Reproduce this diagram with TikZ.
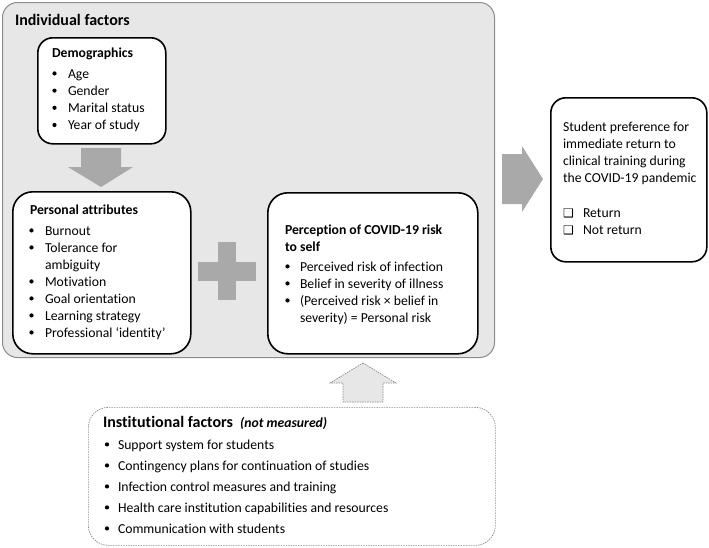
\documentclass[tikz,border=0pt]{standalone}
\usepackage{fontspec}
\setmainfont{Carlito}[Ligatures={NoCommon}]
\newfontfamily\djv{DejaVu Sans}
\definecolor{bggray}{HTML}{E7E7E7}
\definecolor{edgegray}{HTML}{8C8C8C}
\definecolor{arrowgray}{HTML}{A9A9A9}
\definecolor{dashgray}{HTML}{8A8A8A}
\tikzset{
  txt/.style={anchor=base west, inner sep=0pt, outer sep=0pt, font=\fontsize{13.7}{16}\selectfont},
  ttl/.style={txt, font=\fontsize{13.7}{16}\selectfont\bfseries},
  bigttl/.style={txt, font=\fontsize{16}{19}\selectfont\bfseries},
  bul/.style={circle, fill=black, draw=none, inner sep=0pt, minimum size=4.2pt, yshift=4.6pt},
  whitebox/.style={draw=black, line width=1.6pt, fill=white, anchor=north west, inner sep=0pt},
  blockarrow/.style={fill=arrowgray, draw=none},
  chk/.style={txt, font=\djv\fontsize{12}{14}\selectfont},
}
\begin{document}
\begin{tikzpicture}[x=1pt,y=-1pt]
\useasboundingbox (0,0) rectangle (709,547);
% outer individual factors panel
\node[draw=edgegray, line width=1pt, fill=bggray, rounded corners=15pt, anchor=north west,
      minimum width=492pt, minimum height=355pt, inner sep=0pt] (indiv) at (2,2) {};
\node[bigttl] (indivt) at (15,25) {Individual factors};

% Demographics
\node[whitebox, rounded corners=15pt, minimum width=128pt, minimum height=106pt] (demo) at (37,37) {};
\node[ttl] (demot) at (52,57.5) {Demographics};
\foreach \t [count=\i] in {Age,Gender,Marital status,Year of study} {
  \node[bul] (db\i) at (54.5,{78+17.2*(\i-1)}) {};
  \node[txt] (dt\i) at (68,{78+17.2*(\i-1)}) {\t};
}

% down arrow
\fill[blockarrow] (81,148) -- (121,148) -- (121,167) -- (133,167) -- (101,187) -- (68,167) -- (81,167) -- cycle;

% Personal attributes
\node[whitebox, rounded corners=20pt, minimum width=178pt, minimum height=162pt] (pers) at (12,191) {};
\node[ttl] (perst) at (30,214.5) {Personal attributes};
\node[bul] (pb1) at (31.5,235) {};
\node[txt] (pt1) at (45,235) {Burnout};
\node[bul] (pb2) at (31.5,252) {};
\node[txt] (pt2) at (45,252) {Tolerance for};
\node[txt] (pt2b) at (45,269) {ambiguity};
\node[bul] (pb3) at (31.5,286) {};
\node[txt] (pt3) at (45,286) {Motivation};
\node[bul] (pb4) at (31.5,303) {};
\node[txt] (pt4) at (45,303) {Goal orientation};
\node[bul] (pb5) at (31.5,320) {};
\node[txt] (pt5) at (45,320) {Learning strategy};
\node[bul] (pb6) at (31.5,337) {};
\node[txt] (pt6) at (45,337) {Professional ‘identity’};

% plus
\fill[blockarrow] (218,242) rectangle (236,300);
\fill[blockarrow] (198,262) rectangle (256,281);

% Perception
\node[whitebox, rounded corners=20pt, minimum width=210pt, minimum height=161pt] (perc) at (267,192) {};
\node[ttl] (perct1) at (285,234) {Perception of COVID-19 risk};
\node[ttl] (perct2) at (285,251) {to self};
\node[bul] (qb1) at (287.5,271) {};
\node[txt] (qt1) at (300,271) {Perceived risk of infection};
\node[bul] (qb2) at (287.5,288) {};
\node[txt] (qt2) at (300,288) {Belief in severity of illness};
\node[bul] (qb3) at (287.5,305) {};
\node[txt] (qt3) at (300,305) {(Perceived risk × belief in};
\node[txt] (qt3b) at (300,322) {severity) = Personal risk};

% right arrow
\fill[blockarrow] (502,154) -- (522,154) -- (522,146) -- (543,179) -- (522,212) -- (522,204) -- (502,204) -- cycle;

% Result
\node[whitebox, rounded corners=15pt, minimum width=156pt, minimum height=164pt] (res) at (550,97) {};
\node[txt] (rt1) at (563,131) {Student preference for};
\node[txt] (rt2) at (563,148.2) {immediate return to};
\node[txt] (rt3) at (563,165.4) {clinical training during};
\node[txt] (rt4) at (563,182.6) {the COVID-19 pandemic};
\node[chk] (rc1) at (563,217) {❑};
\node[txt] (rr1) at (583,217) {Return};
\node[chk] (rc2) at (563,234.2) {❑};
\node[txt] (rr2) at (583,234.2) {Not return};

% up arrow (dashed)
\filldraw[fill=bggray, draw=dashgray, dash pattern=on 1.5pt off 1pt, line width=0.7pt]
  (363,363) -- (396,383) -- (383,383) -- (383,402) -- (343,402) -- (343,383) -- (330,383) -- cycle;

% Institutional
\node[draw=dashgray, dash pattern=on 1.5pt off 1pt, line width=0.7pt, rounded corners=20pt, anchor=north west,
      minimum width=407pt, minimum height=138pt, inner sep=0pt] (inst) at (88,407) {};
\node[bigttl] (instt) at (103,427) {Institutional factors\hspace{7pt}{\fontsize{13.7}{16}\selectfont\itshape (not measured)}};
\foreach \t [count=\i] in {Support system for students,Contingency plans for continuation of studies,Infection control measures and training,Health care institution capabilities and resources,Communication with students} {
  \node[bul] (ib\i) at (107,{449+21*(\i-1)}) {};
  \node[txt] (it\i) at (118,{449+21*(\i-1)}) {\t};
}
\end{tikzpicture}
\end{document}
